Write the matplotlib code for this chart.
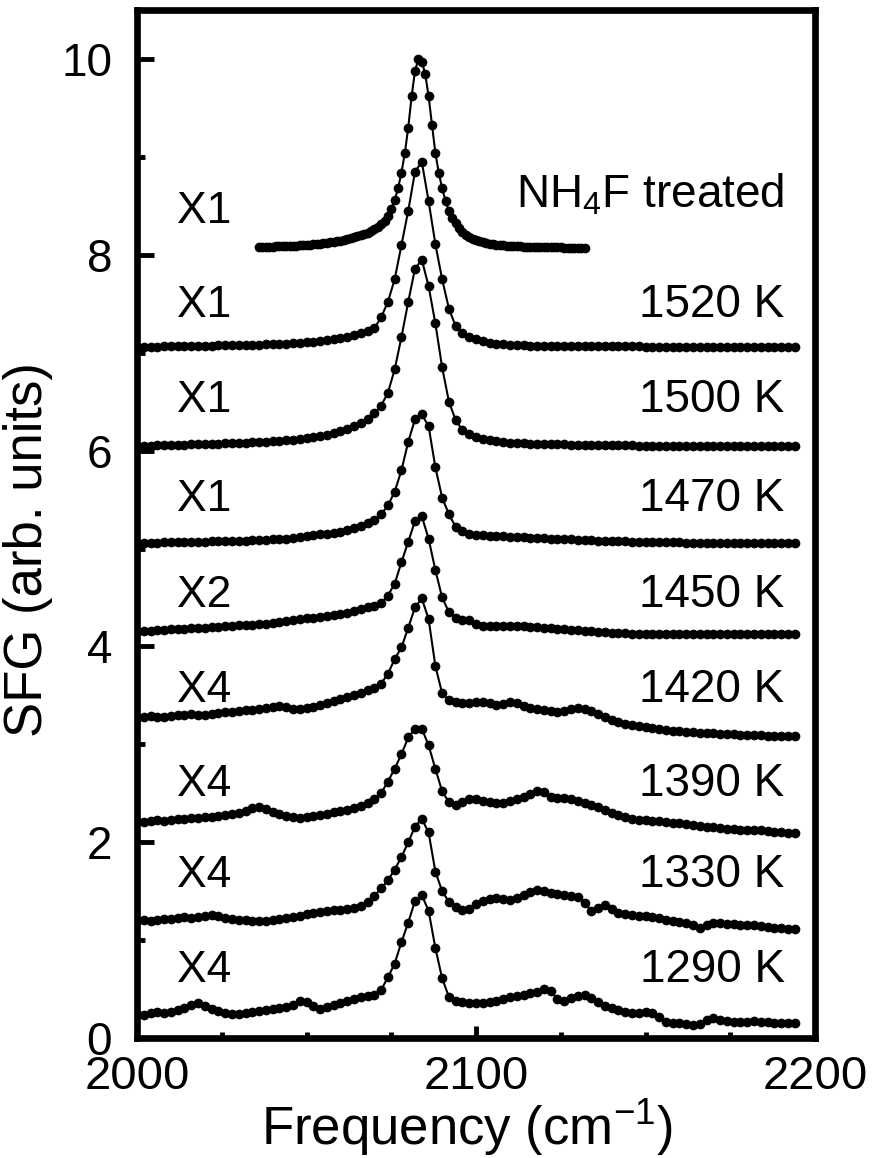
import matplotlib

matplotlib.use("Agg")
import matplotlib.pyplot as plt
import numpy as np
from matplotlib.axes import Axes
from matplotlib.ticker import MultipleLocator

plt.rcParams["font.family"] = ["Liberation Sans", "DejaVu Sans"]
plt.rcParams["mathtext.fontset"] = "custom"
plt.rcParams["mathtext.rm"] = "Liberation Sans"
plt.rcParams["mathtext.it"] = "Liberation Sans:italic"

# frequency grid of the annealed spectra (cm^-1), one point every 2 cm^-1: 2000 ... 2194
freq = np.arange(2000, 2196, 2)
# NH4F treated reference spectrum, one point every 1 cm^-1: 2036 ... 2132
freq_nh4f = np.arange(2036, 2133, 1)

# SFG signal (arb. units, already scaled and offset as in the figure)
sfg_1290 = [
    0.25, 0.24, 0.26, 0.27, 0.26, 0.27, 0.29, 0.31, 0.34, 0.36,
    0.33, 0.30, 0.28, 0.26, 0.25, 0.25, 0.26, 0.27, 0.28, 0.29,
    0.30, 0.31, 0.32, 0.34, 0.38, 0.37, 0.33, 0.30, 0.32, 0.34,
    0.36, 0.38, 0.40, 0.42, 0.43, 0.44, 0.49, 0.62, 0.76, 0.98,
    1.18, 1.40, 1.46, 1.30, 0.92, 0.61, 0.42, 0.38, 0.37, 0.36,
    0.36, 0.36, 0.37, 0.38, 0.40, 0.42, 0.43, 0.44, 0.46, 0.47,
    0.50, 0.48, 0.40, 0.38, 0.41, 0.43, 0.44, 0.41, 0.37, 0.33,
    0.31, 0.29, 0.27, 0.26, 0.26, 0.27, 0.26, 0.21, 0.16, 0.15,
    0.15, 0.14, 0.13, 0.14, 0.18, 0.20, 0.18, 0.17, 0.16, 0.16,
    0.16, 0.17, 0.16, 0.16, 0.15, 0.15, 0.15, 0.15,
]
sfg_1330 = [
    1.20, 1.21, 1.20, 1.21, 1.22, 1.22, 1.23, 1.24, 1.23, 1.24,
    1.25, 1.26, 1.25, 1.23, 1.22, 1.21, 1.21, 1.20, 1.20, 1.20,
    1.21, 1.22, 1.23, 1.24, 1.25, 1.27, 1.28, 1.29, 1.30, 1.31,
    1.31, 1.32, 1.33, 1.35, 1.39, 1.45, 1.53, 1.61, 1.72, 1.85,
    2.00, 2.16, 2.24, 2.10, 1.70, 1.50, 1.39, 1.34, 1.31, 1.32,
    1.37, 1.40, 1.42, 1.43, 1.42, 1.41, 1.43, 1.46, 1.49, 1.51,
    1.50, 1.48, 1.47, 1.46, 1.45, 1.44, 1.38, 1.30, 1.33, 1.36,
    1.32, 1.28, 1.27, 1.26, 1.25, 1.25, 1.24, 1.23, 1.21, 1.20,
    1.19, 1.18, 1.15, 1.12, 1.15, 1.18, 1.17, 1.16, 1.16, 1.15,
    1.15, 1.15, 1.14, 1.13, 1.12, 1.12, 1.11, 1.11,
]
sfg_1390 = [
    2.22, 2.21, 2.22, 2.23, 2.22, 2.23, 2.24, 2.24, 2.25, 2.25,
    2.26, 2.26, 2.27, 2.28, 2.29, 2.30, 2.32, 2.35, 2.36, 2.34,
    2.31, 2.29, 2.27, 2.26, 2.25, 2.26, 2.27, 2.28, 2.29, 2.31,
    2.32, 2.33, 2.35, 2.37, 2.40, 2.44, 2.50, 2.62, 2.75, 2.90,
    3.07, 3.16, 3.16, 2.99, 2.75, 2.52, 2.41, 2.38, 2.41, 2.44,
    2.44, 2.42, 2.41, 2.40, 2.40, 2.42, 2.44, 2.46, 2.49, 2.52,
    2.51, 2.46, 2.45, 2.45, 2.44, 2.42, 2.40, 2.38, 2.36, 2.33,
    2.30, 2.28, 2.26, 2.24, 2.23, 2.23, 2.22, 2.22, 2.21, 2.20,
    2.20, 2.19, 2.18, 2.17, 2.16, 2.16, 2.15, 2.14, 2.14, 2.13,
    2.13, 2.12, 2.12, 2.11, 2.10, 2.10, 2.09, 2.09,
]
sfg_1420 = [
    3.27, 3.28, 3.29, 3.28, 3.28, 3.29, 3.30, 3.30, 3.31, 3.30,
    3.30, 3.31, 3.32, 3.33, 3.33, 3.34, 3.35, 3.35, 3.36, 3.37,
    3.38, 3.39, 3.38, 3.36, 3.36, 3.37, 3.38, 3.40, 3.42, 3.44,
    3.46, 3.48, 3.50, 3.52, 3.55, 3.58, 3.62, 3.72, 3.87, 3.99,
    4.19, 4.40, 4.49, 4.28, 3.80, 3.52, 3.45, 3.43, 3.42, 3.42,
    3.43, 3.43, 3.42, 3.40, 3.41, 3.43, 3.42, 3.39, 3.37, 3.36,
    3.35, 3.34, 3.33, 3.34, 3.36, 3.37, 3.36, 3.34, 3.31, 3.28,
    3.25, 3.23, 3.21, 3.20, 3.19, 3.18, 3.17, 3.16, 3.15, 3.14,
    3.14, 3.13, 3.13, 3.12, 3.12, 3.12, 3.11, 3.11, 3.11, 3.10,
    3.10, 3.10, 3.10, 3.09, 3.09, 3.09, 3.09, 3.09,
]
sfg_1450 = [
    4.15, 4.16, 4.16, 4.17, 4.17, 4.18, 4.18, 4.18, 4.19, 4.19,
    4.19, 4.20, 4.20, 4.21, 4.21, 4.22, 4.22, 4.22, 4.23, 4.23,
    4.24, 4.25, 4.26, 4.27, 4.28, 4.29, 4.29, 4.30, 4.31, 4.32,
    4.33, 4.34, 4.36, 4.38, 4.40, 4.41, 4.44, 4.52, 4.64, 4.86,
    5.07, 5.28, 5.33, 5.10, 4.78, 4.50, 4.35, 4.29, 4.27, 4.27,
    4.23, 4.21, 4.21, 4.21, 4.21, 4.21, 4.21, 4.21, 4.20, 4.20,
    4.19, 4.19, 4.18, 4.18, 4.17, 4.17, 4.16, 4.16, 4.15, 4.15,
    4.14, 4.14, 4.14, 4.13, 4.13, 4.13, 4.13, 4.13, 4.13, 4.13,
    4.13, 4.13, 4.13, 4.13, 4.13, 4.13, 4.13, 4.13, 4.13, 4.13,
    4.13, 4.13, 4.13, 4.13, 4.13, 4.13, 4.13, 4.13,
]
sfg_1470 = [
    5.06, 5.06, 5.06, 5.06, 5.07, 5.07, 5.07, 5.07, 5.07, 5.07,
    5.07, 5.08, 5.08, 5.08, 5.08, 5.08, 5.08, 5.09, 5.09, 5.09,
    5.10, 5.10, 5.10, 5.11, 5.12, 5.13, 5.14, 5.15, 5.15, 5.16,
    5.17, 5.19, 5.21, 5.23, 5.26, 5.29, 5.35, 5.44, 5.58, 5.80,
    6.09, 6.32, 6.37, 6.25, 5.83, 5.52, 5.35, 5.22, 5.18, 5.15,
    5.14, 5.14, 5.13, 5.13, 5.13, 5.12, 5.12, 5.12, 5.11, 5.11,
    5.11, 5.10, 5.10, 5.10, 5.10, 5.09, 5.09, 5.09, 5.08, 5.08,
    5.08, 5.08, 5.08, 5.07, 5.07, 5.07, 5.07, 5.07, 5.07, 5.07,
    5.07, 5.06, 5.06, 5.06, 5.06, 5.06, 5.06, 5.06, 5.06, 5.06,
    5.06, 5.06, 5.06, 5.06, 5.06, 5.06, 5.06, 5.06,
]
sfg_1500 = [
    6.05, 6.05, 6.05, 6.06, 6.06, 6.06, 6.06, 6.06, 6.07, 6.07,
    6.07, 6.07, 6.07, 6.08, 6.08, 6.08, 6.08, 6.09, 6.09, 6.09,
    6.10, 6.10, 6.11, 6.11, 6.12, 6.13, 6.14, 6.15, 6.16, 6.18,
    6.20, 6.22, 6.25, 6.28, 6.32, 6.38, 6.46, 6.59, 6.83, 7.16,
    7.52, 7.86, 7.95, 7.68, 7.30, 6.85, 6.50, 6.31, 6.21, 6.17,
    6.14, 6.12, 6.11, 6.10, 6.09, 6.08, 6.08, 6.08, 6.07, 6.07,
    6.07, 6.07, 6.07, 6.07, 6.06, 6.06, 6.06, 6.06, 6.06, 6.06,
    6.06, 6.06, 6.06, 6.06, 6.05, 6.05, 6.05, 6.05, 6.05, 6.05,
    6.05, 6.05, 6.05, 6.05, 6.05, 6.05, 6.05, 6.05, 6.05, 6.05,
    6.05, 6.05, 6.05, 6.05, 6.05, 6.05, 6.05, 6.05,
]
sfg_1520 = [
    7.06, 7.06, 7.06, 7.06, 7.07, 7.07, 7.07, 7.07, 7.07, 7.07,
    7.07, 7.07, 7.08, 7.08, 7.08, 7.08, 7.08, 7.08, 7.08, 7.09,
    7.09, 7.09, 7.09, 7.10, 7.10, 7.11, 7.11, 7.12, 7.13, 7.14,
    7.15, 7.16, 7.18, 7.20, 7.22, 7.25, 7.36, 7.52, 7.75, 8.10,
    8.45, 8.85, 8.95, 8.55, 8.11, 7.75, 7.45, 7.27, 7.20, 7.16,
    7.14, 7.12, 7.10, 7.09, 7.09, 7.08, 7.08, 7.08, 7.07, 7.07,
    7.07, 7.07, 7.07, 7.07, 7.07, 7.07, 7.07, 7.07, 7.07, 7.07,
    7.07, 7.07, 7.07, 7.07, 7.07, 7.06, 7.06, 7.06, 7.06, 7.06,
    7.06, 7.06, 7.06, 7.06, 7.06, 7.06, 7.06, 7.06, 7.06, 7.06,
    7.06, 7.06, 7.06, 7.06, 7.06, 7.06, 7.06, 7.06,
]
sfg_nh4f = [
    8.08, 8.08, 8.08, 8.08, 8.08, 8.09, 8.09, 8.09, 8.09, 8.09,
    8.09, 8.09, 8.10, 8.10, 8.10, 8.10, 8.11, 8.11, 8.11, 8.12,
    8.12, 8.13, 8.13, 8.14, 8.14, 8.15, 8.16, 8.17, 8.18, 8.19,
    8.20, 8.21, 8.22, 8.24, 8.26, 8.28, 8.31, 8.35, 8.40, 8.47,
    8.56, 8.68, 8.84, 9.04, 9.30, 9.62, 9.88, 10.00, 9.97, 9.85,
    9.62, 9.33, 9.04, 8.84, 8.68, 8.55, 8.45, 8.38, 8.32, 8.27,
    8.23, 8.20, 8.18, 8.16, 8.15, 8.14, 8.13, 8.12, 8.11, 8.11,
    8.10, 8.10, 8.10, 8.09, 8.09, 8.09, 8.09, 8.09, 8.08, 8.08,
    8.08, 8.08, 8.08, 8.08, 8.08, 8.08, 8.08, 8.08, 8.08, 8.08,
    8.07, 8.07, 8.07, 8.07, 8.07, 8.07, 8.07,
]

spectra = [sfg_1290, sfg_1330, sfg_1390, sfg_1420, sfg_1450, sfg_1470, sfg_1500, sfg_1520]
temperatures = ["1290 K", "1330 K", "1390 K", "1420 K", "1450 K", "1470 K", "1500 K", "1520 K"]
scale_factors = ["X4", "X4", "X4", "X4", "X2", "X1", "X1", "X1"]

# baseline of the annotation row for each spectrum (data units)
label_rows = [0.57, 1.54, 2.47, 3.43, 4.40, 5.38, 6.39, 7.36]


def _plot_spectrum(ax: Axes, x, y) -> None:
    ax.plot(x, y, color="black", lw=1.5, marker="o", ms=7, mew=0, solid_capstyle="round")


def _style_axes(ax: Axes) -> None:
    ax.set_xlim(2000, 2200)
    ax.set_ylim(0, 10.5)
    ax.xaxis.set_major_locator(MultipleLocator(100))
    ax.xaxis.set_minor_locator(MultipleLocator(25))
    ax.yaxis.set_major_locator(MultipleLocator(2))
    ax.yaxis.set_minor_locator(MultipleLocator(1))
    for spine in ax.spines.values():
        spine.set_linewidth(4.8)
    ax.tick_params(which="both", direction="in", top=False, right=False)
    ax.tick_params(axis="y", which="major", length=12, width=3.5, pad=18, labelsize=33)
    ax.tick_params(axis="y", which="minor", length=6, width=3.5)
    ax.tick_params(axis="x", which="major", length=9, width=3.5, pad=12, labelsize=34)
    ax.tick_params(axis="x", which="minor", length=4, width=3.5)


fig = plt.figure(figsize=(8.75, 11.58), dpi=100)
ax = fig.add_axes([0.1566, 0.1036, 0.7749, 0.8877])

for y in spectra:
    _plot_spectrum(ax, freq, y)
_plot_spectrum(ax, freq_nh4f, sfg_nh4f)

for row, temp, scale in zip(label_rows, temperatures, scale_factors):
    ax.text(2011.8, row, scale, fontsize=32, ha="left", va="baseline")
    ax.text(2191, row, temp, fontsize=33, ha="right", va="baseline")
ax.text(2011.8, 8.33, "X1", fontsize=32, ha="left", va="baseline")
ax.text(2191, 8.48, "NH$_4$F treated", fontsize=33, ha="right", va="baseline")

_style_axes(ax)

fig.text(467 / 875, 1 - 1128 / 1158, "Frequency (cm$^{-1}$)", fontsize=38, ha="center", va="center")
fig.text(28 / 875, 1 - 550 / 1158, "SFG (arb. units)", fontsize=38, rotation=90, ha="center", va="center")

fig.savefig("out.png", dpi=100)
